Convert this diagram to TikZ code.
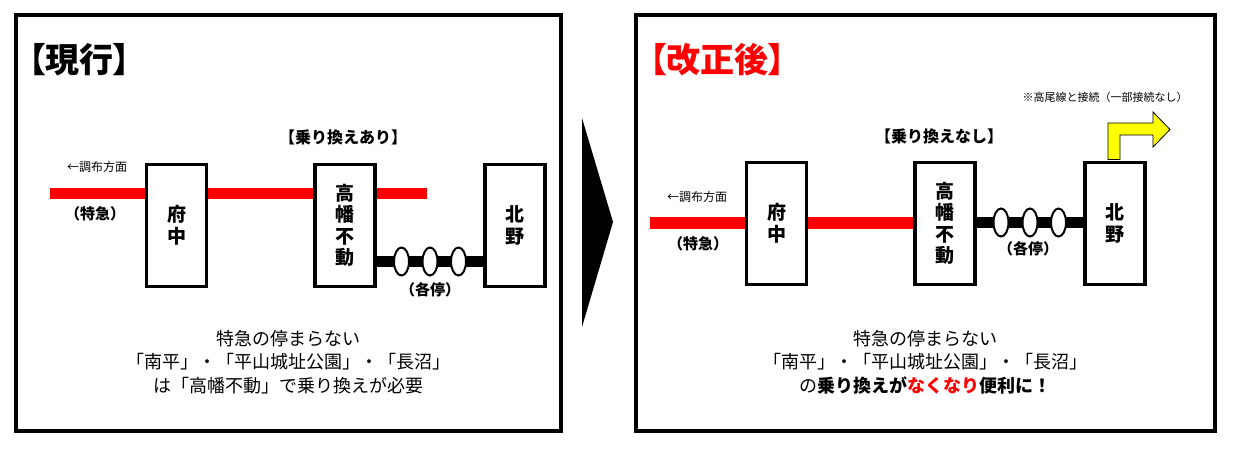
\documentclass[tikz,border=0pt]{standalone}
\usepackage{fontspec}
\setmainfont{Noto Sans CJK JP}
\newfontfamily\jpp{Noto Sans CJK JP}[RawFeature=+palt]
\usetikzlibrary{shapes.geometric}
\definecolor{jred}{HTML}{FF0000}
\definecolor{jyel}{HTML}{FFFF00}
\begin{document}
\begin{tikzpicture}[x=1pt,y=-1pt,
  panel/.style={draw,line width=4.5pt,inner sep=0pt},
  stn/.style={draw,line width=3.5pt,fill=white,minimum width=60pt,minimum height=122pt,inner sep=0pt,align=center,font=\fontsize{19}{21.5}\selectfont\bfseries},
  redline/.style={draw=jred,line width=11.5pt},
  blkline/.style={draw=black,line width=11.5pt},
  oval/.style={ellipse,draw,fill=white,line width=2pt,minimum width=15pt,minimum height=28pt,inner sep=0pt},
  ttl/.style={anchor=west,font=\jpp\fontsize{34}{36}\selectfont\bfseries,inner sep=0pt},
  dir/.style={font=\fontsize{12}{14}\selectfont,inner sep=0pt},
  kind/.style={font=\fontsize{15}{17}\selectfont\bfseries,inner sep=0pt},
  xfer/.style={font=\fontsize{16}{18}\selectfont\bfseries,inner sep=0pt},
  note/.style={align=center,font=\fontsize{18}{23.5}\selectfont,inner sep=0pt}]
\useasboundingbox (0,0) rectangle (1236,460);
% panels
\node[panel,minimum width=545pt,minimum height=416pt] (PL) at (288.5,223) {};
\node[panel,minimum width=579pt,minimum height=416pt] (PR) at (925.5,223) {};
% big arrow
\fill (582,118) -- (613,222) -- (582,327) -- cycle;
% ---------- left panel ----------
\node[ttl] (TL) at (28,60) {【現行】};
\coordinate (Lr0) at (50,193.5);
\coordinate (Lr1) at (427,193.5);
\coordinate (Lb) at (0,261.5);
\node[stn] (LF) at (176.5,225.5) {府\\中};
\node[stn] (LT) at (345,225.5) {高\\幡\\不\\動};
\node[stn] (LK) at (515,225.5) {北\\野};
\draw[redline] (Lr0) -- (LF.west |- Lr0);
\draw[redline] (LF.east |- Lr0) -- (LT.west |- Lr0);
\draw[redline] (LT.east |- Lr0) -- (Lr1);
\draw[blkline] (LT.east |- Lb) -- (LK.west |- Lb);
\node[oval] (Lo1) at (401.5,261.5) {};
\node[oval] (Lo2) at (430,261.5) {};
\node[oval] (Lo3) at (458.5,261.5) {};
\node[dir] (LD) at (97,167) {←調布方面};
\node[kind] (LX) at (95,213.5) {（特急）};
\node[kind] (LL) at (430,290) {（各停）};
\node[xfer] (LN) at (343,137) {【乗り換えあり】};
\node[note] (LM) at (288,362) {特急の停まらない\\「南平」・「平山城址公園」・「長沼」\\は「高幡不動」で乗り換えが必要};
% ---------- right panel ----------
\node[ttl,text=jred] (TR) at (649,60) {【改正後】};
\coordinate (Rr0) at (650,223);
\coordinate (Rb) at (0,222.5);
\node[stn] (RF) at (776.5,223.5) {府\\中};
\node[stn] (RT) at (945,223.5) {高\\幡\\不\\動};
\node[stn] (RK) at (1115,223.5) {北\\野};
\draw[redline] (Rr0) -- (RF.west |- Rr0);
\draw[redline] (RF.east |- Rr0) -- (RT.west |- Rr0);
\draw[blkline] (RT.east |- Rb) -- (RK.west |- Rb);
\node[oval] (Ro1) at (1001,222.5) {};
\node[oval] (Ro2) at (1030,222.5) {};
\node[oval] (Ro3) at (1058.5,222.5) {};
\node[dir] (RD) at (697,197) {←調布方面};
\node[kind] (RX) at (698,243.5) {（特急）};
\node[kind] (RL) at (1028,249) {（各停）};
\node[xfer] (RN) at (939,136) {【乗り換えなし】};
\node[font=\fontsize{11}{13}\selectfont,inner sep=0pt] (RS) at (1105,97) {※高尾線と接続（一部接続なし）};
\filldraw[fill=jyel,draw=black,line width=0.8pt] (1108,159.5) -- (1108,123) -- (1153,123) -- (1153,112) -- (1170,129.5) -- (1153,147) -- (1153,135) -- (1120,135) -- (1120,159.5) -- cycle;
\node[note] (RM) at (925,362) {特急の停まらない\\「南平」・「平山城址公園」・「長沼」\\の\textbf{乗り換えが}\textcolor{jred}{\textbf{なくなり}}\textbf{便利に！}};
\end{tikzpicture}
\end{document}
